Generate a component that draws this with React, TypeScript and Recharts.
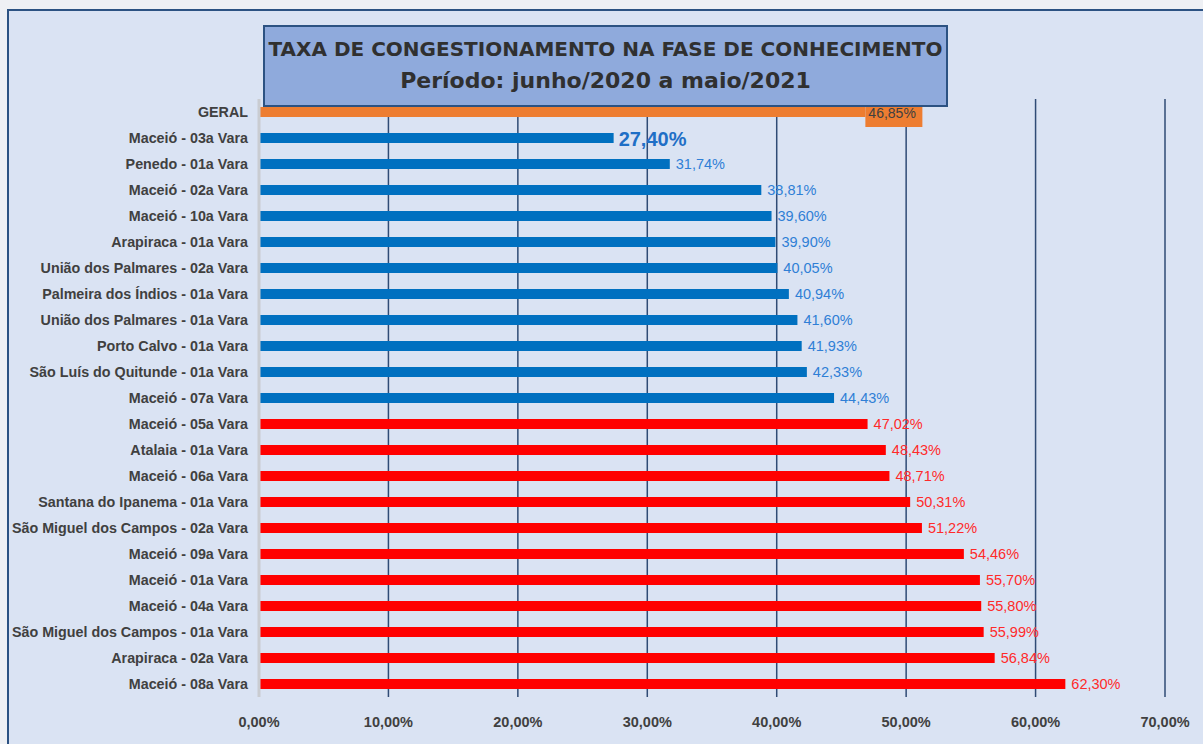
import React from "react";
import {
  BarChart,
  Bar,
  XAxis,
  YAxis,
  CartesianGrid,
  Cell,
  LabelList,
} from "recharts";

const varas = [
  "GERAL",
  "Maceió - 03a Vara",
  "Penedo - 01a Vara",
  "Maceió - 02a Vara",
  "Maceió - 10a Vara",
  "Arapiraca - 01a Vara",
  "União dos Palmares - 02a Vara",
  "Palmeira dos Índios - 01a Vara",
  "União dos Palmares - 01a Vara",
  "Porto Calvo - 01a Vara",
  "São Luís do Quitunde - 01a Vara",
  "Maceió - 07a Vara",
  "Maceió - 05a Vara",
  "Atalaia - 01a Vara",
  "Maceió - 06a Vara",
  "Santana do Ipanema - 01a Vara",
  "São Miguel dos Campos - 02a Vara",
  "Maceió - 09a Vara",
  "Maceió - 01a Vara",
  "Maceió - 04a Vara",
  "São Miguel dos Campos - 01a Vara",
  "Arapiraca - 02a Vara",
  "Maceió - 08a Vara",
];

const taxas = [
  46.85, 27.4, 31.74, 38.81, 39.6, 39.9, 40.05, 40.94, 41.6, 41.93, 42.33,
  44.43, 47.02, 48.43, 48.71, 50.31, 51.22, 54.46, 55.7, 55.8, 55.99, 56.84,
  62.3,
];

const xTicks = [0, 10, 20, 30, 40, 50, 60, 70];

const geral = taxas[0];
const menor = Math.min(...taxas);

const rows = varas.map((name, i) => ({ name, taxa: taxas[i] }));

const pct = (v: number) => v.toFixed(2).replace(".", ",") + "%";

const barColor = (v: number, i: number) =>
  i === 0 ? "#ed7d31" : v < geral ? "#0070c0" : "#ff0000";

const FONT = "'Liberation Sans', Arial, sans-serif";
const TITLE_FONT = "'DejaVu Sans', sans-serif";

const ValueLabel = (props: any) => {
  const { x, y, width, height, value, index } = props;
  const v = Number(value);
  const endX = Number(x) + Number(width);
  const cy = Number(y) + Number(height) / 2;
  if (index === 0 || v === geral) {
    return (
      <g>
        <rect x={endX} y={cy - 13} width={57} height={28} fill="#ed7d31" />
        <text
          x={endX + 3}
          y={cy + 1}
          fill="#404040"
          fontSize={14}
          fontFamily={FONT}
          dominantBaseline="central"
        >
          {pct(v)}
        </text>
      </g>
    );
  }
  if (v === menor) {
    return (
      <text
        x={endX + 5}
        y={cy + 1}
        fill="#1f6fc6"
        fontSize={20}
        fontWeight="bold"
        fontFamily={FONT}
        dominantBaseline="central"
      >
        {pct(v)}
      </text>
    );
  }
  return (
    <text
      x={endX + 6}
      y={cy}
      fill={v < geral ? "#2f7fd6" : "#ff2a2a"}
      fontSize={14.5}
      fontFamily={FONT}
      dominantBaseline="central"
    >
      {pct(v)}
    </text>
  );
};

export default function App() {
  return (
    <div
      style={{
        position: "fixed",
        left: 0,
        top: 0,
        width: 1203,
        height: 744,
        overflow: "hidden",
        background: "#eef0f4",
        fontFamily: FONT,
      }}
    >
      <div
        style={{
          position: "absolute",
          left: 7,
          top: 9,
          width: 1300,
          height: 800,
          border: "2px solid #2c5282",
          background: "#dae3f3",
        }}
      />
      <div style={{ position: "absolute", left: 0, top: 0 }}>
        <BarChart
          width={1203}
          height={744}
          layout="vertical"
          data={rows}
          margin={{ top: 99, right: 38, bottom: 0, left: 0 }}
        >
          <CartesianGrid
            horizontal={false}
            stroke="#2f4b75"
            strokeWidth={1.5}
          />
          <XAxis
            type="number"
            domain={[0, 70]}
            ticks={xTicks}
            height={47}
            tickFormatter={(v: number) => pct(v)}
            axisLine={false}
            tickLine={false}
            tickSize={6}
            tickMargin={14}
            tick={{
              fontSize: 14.5,
              fontWeight: "bold",
              fill: "#404040",
              fontFamily: FONT,
            }}
          />
          <YAxis
            type="category"
            dataKey="name"
            width={259}
            interval={0}
            axisLine={{ stroke: "#c9ccd1", strokeWidth: 3 }}
            tickLine={false}
            tickSize={6}
            tickMargin={5}
            tick={{
              fontSize: 14.3,
              fontWeight: "bold",
              fill: "#404040",
              fontFamily: FONT,
            }}
          />
          <Bar dataKey="taxa" barSize={10} isAnimationActive={false}>
            {rows.map((r, i) => (
              <Cell key={r.name} fill={barColor(r.taxa, i)} />
            ))}
            <LabelList dataKey="taxa" content={<ValueLabel />} />
          </Bar>
        </BarChart>
      </div>
      <div
        style={{
          position: "absolute",
          left: 263,
          top: 25,
          width: 681,
          height: 72,
          background: "#8faadc",
          border: "2px solid #2c5282",
          color: "#303030",
          fontWeight: "bold",
          textAlign: "center",
          lineHeight: "32px",
          paddingTop: 6,
          boxSizing: "content-box",
          fontFamily: TITLE_FONT,
        }}
      >
        <div style={{ fontSize: 20 }}>
          TAXA DE CONGESTIONAMENTO NA FASE DE CONHECIMENTO
        </div>
        <div style={{ fontSize: 22 }}>Período: junho/2020 a maio/2021</div>
      </div>
    </div>
  );
}
